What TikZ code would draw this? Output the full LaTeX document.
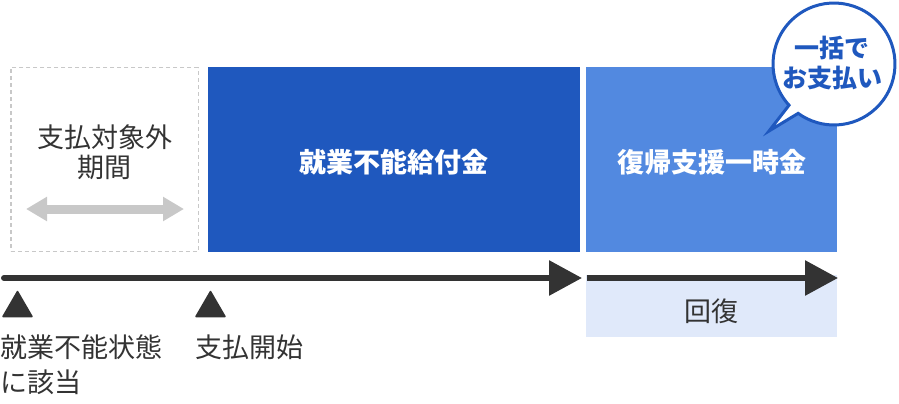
\documentclass[tikz,border=0pt]{standalone}
\usepackage{fontspec}
\newfontfamily\jp{Noto Sans CJK JP}
\usetikzlibrary{arrows.meta,calc}
\definecolor{dkblue}{RGB}{31,88,190}
\definecolor{mdblue}{RGB}{82,137,224}
\definecolor{ltblue}{RGB}{224,233,250}
\definecolor{ltgray}{RGB}{200,200,200}
\definecolor{txtgray}{RGB}{51,51,51}
\begin{document}
\begin{tikzpicture}[x=1pt,y=-1pt,
  boxshape/.style={rectangle,inner sep=0pt,outer sep=0pt},
  gtext/.style={inner sep=0pt,text=txtgray,font=\jp\fontsize{27}{30}\selectfont,align=center},
  wtext/.style={inner sep=0pt,text=white,font=\jp\bfseries\fontsize{27}{30}\selectfont,align=center},
  btext/.style={inner sep=0pt,text=dkblue,font=\jp\bfseries\fontsize{25}{30}\selectfont,align=center},
  tline/.style={line width=6pt,draw=txtgray,-{Triangle[length=33pt,width=34pt]}},
  marker/.style={fill=txtgray,draw=txtgray,line width=1.5pt,line join=round}]
\useasboundingbox (0,0) rectangle (899,404);
% boxes
\node[boxshape,draw=ltgray,line width=1.5pt,dash pattern=on 4pt off 3pt,
  minimum width=187.5pt,minimum height=183.5pt] (gap) at (104.5,159.5) {};
\node[boxshape,fill=dkblue,minimum width=372pt,minimum height=185pt] (main) at (394,159.5) {};
\node[boxshape,fill=mdblue,minimum width=251pt,minimum height=185pt] (ret) at (711.5,159.5) {};
\node[boxshape,fill=ltblue,minimum width=251pt,minimum height=62pt] (rec) at (711.5,306) {};
% texts in boxes
\node[gtext] (gaptxt) at (104.5,152) {支払対象外\\期間};
\node[wtext] (maintxt) at (394,162) {就業不能給付金};
\node[wtext] (rettxt) at (711.5,162) {復帰支援一時金};
\node[gtext] (rectxt) at (711.5,311) {回復};
% gray double arrow
\coordinate (gl) at (26,209);
\coordinate (gr) at (184,209);
\draw[line width=9pt,draw=ltgray,{Triangle[length=21pt,width=23pt]}-{Triangle[length=21pt,width=23pt]}] (gl) -- (gr);
% timeline
\coordinate (t0) at (4,278);
\coordinate (t1) at (582,278);
\coordinate (t2) at (587,278);
\coordinate (t3) at (838,278);
\draw[tline,line cap=round] (t0) -- (t1);
\draw[tline] (t2) -- (t3);
% markers
\coordinate (m1) at (17.5,291.5);
\coordinate (m2) at (210.5,291.5);
\draw[marker] (m1) -- ++(14.5,25) -- ++(-29,0) -- cycle;
\draw[marker] (m2) -- ++(14.5,25) -- ++(-29,0) -- cycle;
\node[gtext,anchor=west] (l1a) at (0.5,347) {就業不能状態};
\node[gtext,anchor=west] (l1b) at (0.5,382) {に該当};
\node[gtext,anchor=west] (l2) at (195,347) {支払開始};
% speech bubble
\coordinate (bc) at (834,64);
\coordinate (tip) at (769,131);
\draw[draw=dkblue,fill=white,line width=3pt,line join=miter]
  ($(bc)+(137.5:61)$) arc[start angle=137.5,end angle=486,radius=61] -- (tip) -- cycle;
\node[btext] (bub) at (832,63) {一括で\\お支払い};
\end{tikzpicture}
\end{document}
